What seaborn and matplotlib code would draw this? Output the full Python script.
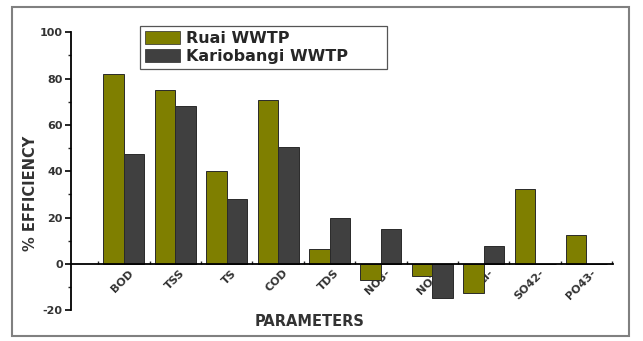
import matplotlib
matplotlib.use("Agg")
import matplotlib.pyplot as plt
import matplotlib.transforms as mtransforms
from matplotlib.patches import Rectangle, Patch
from matplotlib.ticker import MultipleLocator, FixedLocator
import seaborn as sns
import pandas as pd

parameters = ["BOD", "TSS", "TS", "COD", "TDS", "NO3-", "NO2-", "Cl-", "SO42-", "PO43-"]
ruai = [82.1, 75.0, 40.0, 70.9, 6.4, -7.0, -5.1, -12.4, 32.3, 12.3]
kariobangi = [47.6, 68.1, 28.1, 50.7, 19.9, 15.3, -14.7, 7.7, 0.0, 0.0]
series_names = ["Ruai WWTP", "Kariobangi WWTP"]
colors = ["#7f7f00", "#404040"]

df = pd.DataFrame({
    "param": parameters * 2,
    "value": ruai + kariobangi,
    "plant": [series_names[0]] * len(parameters) + [series_names[1]] * len(parameters),
})

sns.set_style("white")
plt.rcParams["font.family"] = ["DejaVu Sans"]
plt.rcParams["font.weight"] = "bold"
plt.rcParams["axes.unicode_minus"] = False

fig = plt.figure(figsize=(6.43, 3.41), dpi=100)
ax = fig.add_axes([71 / 643, 1 - 310.3 / 341, (612.7 - 71) / 643, (310.3 - 32.3) / 341])

sns.barplot(data=df, x="param", y="value", hue="plant", order=parameters,
            hue_order=series_names, palette=colors, width=0.8, saturation=1,
            edgecolor="#2a2a2a", linewidth=0.7, ax=ax, legend=False)

ax.set_xlim(-1.03, 9.51)
ax.set_ylim(-20, 100)

for s in ["top", "right"]:
    ax.spines[s].set_visible(False)
ax.spines["bottom"].set_position(("data", 0))
ax.spines["left"].set_bounds(-20, 100)
for s in ["left", "bottom"]:
    ax.spines[s].set_color("black")
    ax.spines[s].set_linewidth(1.3)

ax.yaxis.set_major_locator(MultipleLocator(20))
ax.yaxis.set_minor_locator(MultipleLocator(10))
ax.tick_params(axis="y", which="major", direction="out", length=4, width=1.2,
               labelsize=8, pad=2, left=True, colors="black")
ax.tick_params(axis="y", which="minor", direction="out", length=2.5, width=1.0, left=True)
for lab in ax.get_yticklabels():
    lab.set_fontweight("bold")
    lab.set_color("#333333")

ax.xaxis.set_minor_locator(FixedLocator([i - 0.5 for i in range(len(parameters) + 1)]))
ax.tick_params(axis="x", which="major", length=0, labelsize=8, pad=1)
ax.tick_params(axis="x", which="minor", direction="in", length=2.5, width=1.0, bottom=True)
ax.set_xticks(range(len(parameters)))
ax.set_xticklabels(parameters, rotation=45, ha="right", va="center",
                   rotation_mode="anchor", fontweight="bold", color="#333333")
offset = mtransforms.ScaledTranslation(8 / 100, -6 / 100, fig.dpi_scale_trans)
for lab in ax.get_xticklabels():
    lab.set_transform(lab.get_transform() + offset)

ax.set_xlabel("PARAMETERS", fontsize=10.5, fontweight="bold", color="#333333")
ax.xaxis.set_label_coords(0.441, -0.015)
ax.set_ylabel("% EFFICIENCY", fontsize=10.5, fontweight="bold", color="#333333")
ax.yaxis.set_label_coords(-0.06, 0.42)

handles = [Patch(facecolor=c, edgecolor="#2a2a2a", linewidth=0.5) for c in colors]
leg = ax.legend(handles, series_names, loc="upper left", mode="expand",
                bbox_to_anchor=(140 / 643, 1 - 71 / 341, (387 - 140) / 643, 45 / 341),
                bbox_transform=fig.transFigure,
                frameon=True, fancybox=False, edgecolor="#555555", framealpha=1,
                prop={"weight": "bold", "size": 11.5}, handlelength=2.2, handleheight=0.85,
                labelspacing=0.2, borderpad=0.3, handletextpad=0.4, borderaxespad=0)
leg.get_frame().set_linewidth(0.9)

fig.patches.append(Rectangle((11.7 / 643, 1 - 336 / 341), (629 - 11.7) / 643, (336 - 6.7) / 341,
                             transform=fig.transFigure, fill=False, edgecolor="#808080",
                             linewidth=1.5))

fig.savefig("out.png", dpi=100)
